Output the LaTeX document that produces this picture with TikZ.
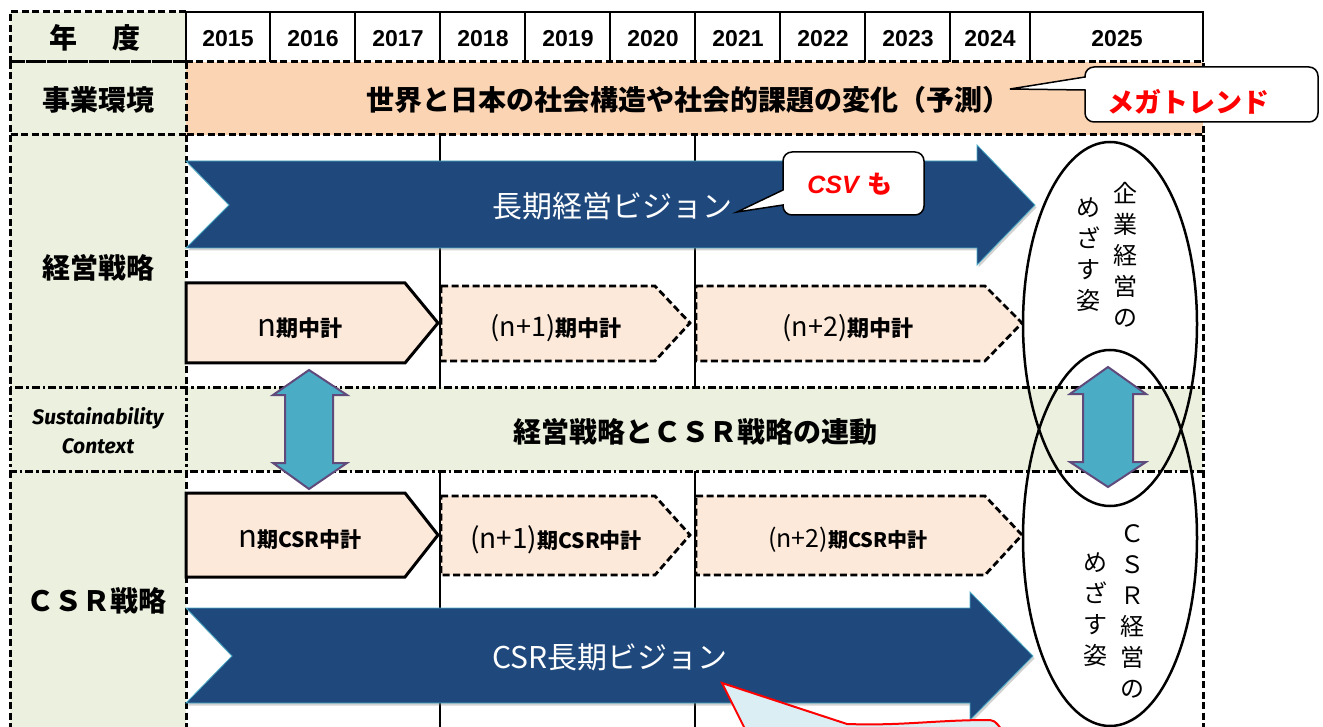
\documentclass[tikz,border=0pt]{standalone}
\usepackage{fontspec}
\setmainfont{Noto Sans CJK JP}
\newfontfamily\yearfont{Liberation Sans}
\newfontfamily\susfont{Fira Sans}
\usetikzlibrary{shadows}
\definecolor{greencell}{HTML}{EBF1DE}
\definecolor{peachrow}{HTML}{FBD4B4}
\definecolor{planfill}{HTML}{FDE9D9}
\definecolor{arrowblue}{HTML}{1F497D}
\definecolor{edgeblue}{HTML}{4BACC6}
\definecolor{dblfill}{HTML}{4BACC6}
\definecolor{dbledge}{HTML}{604A7B}
\definecolor{calloutblue}{HTML}{DBEEF4}
\newcommand{\fsz}[1]{\fontsize{#1}{#1}\selectfont}
\begin{document}
\begin{tikzpicture}[x=1pt,y=-1pt,
  hdr/.style={font=\fsz{28}\bfseries, inner sep=0pt},
  yr/.style={font=\yearfont\fsz{23}\bfseries, inner sep=0pt},
  dsh/.style={line width=3pt, dash pattern=on 7pt off 3.5pt},
  dshdot/.style={line width=3pt, dash pattern=on 8pt off 3pt on 2.5pt off 3pt},
  solidcell/.style={draw=black, line width=2pt},
  gridline/.style={draw=black, line width=1.3pt},
  bluearrow/.style={fill=arrowblue, draw=edgeblue, line width=0.8pt,
     drop shadow={opacity=0.35, shadow xshift=1.5pt, shadow yshift=-2.5pt}},
  plansolid/.style={fill=planfill, draw=black, line width=3pt, line join=miter},
  plandash/.style={fill=planfill, draw=black, line width=2.8pt, dash pattern=on 7pt off 3.5pt},
  dbl/.style={fill=dblfill, draw=dbledge, line width=2pt, line join=miter},
  oval/.style={draw=black, line width=2.5pt},
  callbox/.style={fill=white, draw=black, line width=1.5pt},
  whitetxt/.style={text=white, font=\fsz{30}, inner sep=0pt},
  plantxt/.style={inner sep=0pt},
  vtxt/.style={align=center, font=\fontsize{24}{31}\selectfont, inner sep=0pt},
  redtxt/.style={text=red, inner sep=0pt}
]
\useasboundingbox (0,0) rectangle (1323,727);
\fill[white] (0,0) rectangle (1323,727);

% ---------- backgrounds ----------
\fill[greencell] (10,12) rectangle (186,740);
\fill[peachrow] (186,62) rectangle (1203,135);
\fill[greencell] (186,387) rectangle (1203,471);

% ---------- header row ----------
\draw[dsh] (186,12) -- (10,12) -- (10,62) -- (186,62);
\foreach \xa/\xb in {186/270,270/355,355/440,440/525,525/610,610/695,695/780,780/865,865/950,950/1030,1030/1203}
  \draw[solidcell] (\xa,62) -- (\xa,12) -- (\xb,12) -- (\xb,62);
\node[hdr] (yearlabel) at (95,38) {年\hspace{1.25em}度};
\node[yr] (y2015) at (228,39) {2015};
\node[yr] (y2016) at (313,39) {2016};
\node[yr] (y2017) at (398,39) {2017};
\node[yr] (y2018) at (483,39) {2018};
\node[yr] (y2019) at (568,39) {2019};
\node[yr] (y2020) at (653,39) {2020};
\node[yr] (y2021) at (738,39) {2021};
\node[yr] (y2022) at (823,39) {2022};
\node[yr] (y2023) at (908,39) {2023};
\node[yr] (y2024) at (990,39) {2024};
\node[yr] (y2025) at (1117,39) {2025};

% ---------- row 2 ----------
\draw[dsh] (10,62) rectangle (186,135);
\draw[dsh] (186,62) rectangle (1203,135);
\node[hdr] (envlabel) at (98,100) {事業環境};
\node[hdr] (envtext) at (688,100) {世界と日本の社会構造や社会的課題の変化（予測）};

% ---------- row 3 ----------
\draw[gridline] (440,135) -- (440,387);
\draw[gridline] (695,135) -- (695,387);
\draw[dsh] (10,135) -- (10,387);
\draw[dsh] (186,135) -- (186,387);
\draw[dsh] (1203,135) -- (1203,387);
\node[hdr] (mgmtlabel) at (98,268) {経営戦略};

% ---------- row 4 ----------
\draw[dshdot] (10,387) rectangle (1203,471);
\draw[dshdot] (186,387) -- (186,471);
\node[align=center, font=\susfont\bfseries\itshape\fontsize{21}{29}\selectfont, inner sep=0pt] (suslabel) at (98,431) {Sustainability\\Context};
\node[hdr] (linktext) at (695,432) {経営戦略とＣＳＲ戦略の連動};

% ---------- row 5 ----------
\draw[gridline] (440,471) -- (440,740);
\draw[gridline] (695,471) -- (695,740);
\draw[dsh] (10,471) -- (10,740);
\draw[dsh] (186,471) -- (186,740);
\draw[dsh] (1203,471) -- (1203,740);
\node[hdr] (csrlabel) at (97,601) {ＣＳＲ戦略};

% ---------- long-term vision arrows ----------
\filldraw[bluearrow] (186,161) -- (977,161) -- (977,145) -- (1035,205) -- (977,265) -- (977,248) -- (186,248) -- (229,205) -- cycle;
\node[whitetxt] (vision) at (612,206) {長期経営ビジョン};
\filldraw[bluearrow] (186,608) -- (970,608) -- (970,592) -- (1033,656) -- (970,720) -- (970,703) -- (186,703) -- (232,656) -- cycle;
\node[whitetxt] (csrvision) at (610,657) {CSR長期ビジョン};

% ---------- mid-term plans ----------
\filldraw[plansolid] (186,283) -- (405,283) -- (438,323) -- (405,363) -- (186,363) -- cycle;
\filldraw[plandash] (441,286) -- (655,286) -- (690,323) -- (655,361) -- (441,361) -- cycle;
\filldraw[plandash] (696,286) -- (985,286) -- (1022,323) -- (985,361) -- (696,361) -- cycle;
\node[plantxt] (plan1) at (300,328) {\fsz{31}n\fsz{22}\bfseries 期中計};
\node[plantxt] (plan2) at (556,328) {\fsz{27}(n+1)\fsz{22}\bfseries 期中計};
\node[plantxt] (plan3) at (848,328) {\fsz{27}(n+2)\fsz{22}\bfseries 期中計};

\filldraw[plansolid] (186,493) -- (405,493) -- (438,535) -- (405,577) -- (186,577) -- cycle;
\filldraw[plandash] (441,496) -- (655,496) -- (690,535) -- (655,575) -- (441,575) -- cycle;
\filldraw[plandash] (696,496) -- (985,496) -- (1022,535) -- (985,575) -- (696,575) -- cycle;
\node[plantxt] (cplan1) at (300,540) {\fsz{31}n\fsz{21}\bfseries 期CSR中計};
\node[plantxt] (cplan2) at (556,540) {\fsz{28}(n+1)\fsz{21}\bfseries 期CSR中計};
\node[plantxt] (cplan3) at (848,540) {\fsz{25}(n+2)\fsz{20}\bfseries 期CSR中計};

% ---------- ellipses ----------
\draw[oval] (1110,324) ellipse [x radius=87, y radius=182];
\draw[oval] (1110,538) ellipse [x radius=87, y radius=188];
\node[vtxt] (goal1a) at (1125,255) {企\\業\\経\\営\\の};
\node[vtxt] (goal1b) at (1088,255) {め\\ざ\\す\\姿};
\node[vtxt] (goal2a) at (1132,611) {Ｃ\\Ｓ\\Ｒ\\経\\営\\の};
\node[vtxt] (goal2b) at (1095,610) {め\\ざ\\す\\姿};

% ---------- double arrows ----------
\filldraw[dbl] (309,370) -- (347,395) -- (333,395) -- (333,463) -- (347,463) -- (309,489) -- (273,463) -- (285,463) -- (285,395) -- (273,395) -- cycle;
\filldraw[dbl] (1108,367) -- (1146,394) -- (1133,394) -- (1133,462) -- (1146,462) -- (1108,487) -- (1070,462) -- (1083,462) -- (1083,394) -- (1070,394) -- cycle;

% ---------- callouts ----------
\coordinate (megatip) at (1010,89);
\filldraw[callbox] (megatip) -- (1085,77) [rounded corners=9pt] -- (1085,67) -- (1318,67) -- (1318,122) -- (1085,122) [sharp corners] -- (1085,90) -- cycle;
\node[redtxt, font=\fsz{27}\bfseries] (mega) at (1188,102) {メガトレンド};

\coordinate (csvtip) at (737,212);
\filldraw[callbox] (csvtip) -- (783,190) [rounded corners=9pt] -- (783,152) -- (924,152) -- (924,215) -- (783,215) [sharp corners] -- (783,205) -- cycle;
\node[redtxt] (csv) at (850,184) {\yearfont\fsz{25}\bfseries\itshape CSV\hspace{0.35em}\normalfont\fsz{25}\bfseries も};

\coordinate (bottomtip) at (722,683);
\filldraw[fill=calloutblue, draw=red, line width=2pt] (753,745) -- (bottomtip) -- (847,724) to[out=-2,in=180] (990,720) to[out=0,in=-90] (1010,740) -- (1010,745);
\end{tikzpicture}
\end{document}
